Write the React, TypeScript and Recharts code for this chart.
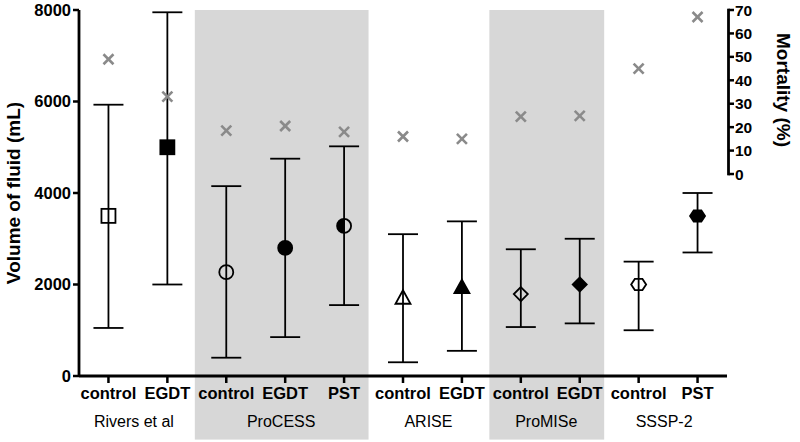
import { ComposedChart, Scatter, ErrorBar, XAxis, YAxis, ReferenceArea } from 'recharts';

const FONT = '"Liberation Sans", Arial, Helvetica, sans-serif';

// trial arms, left to right
const trials = ['Rivers et al', 'Rivers et al', 'ProCESS', 'ProCESS', 'ProCESS', 'ARISE', 'ARISE', 'ProMISe', 'ProMISe', 'SSSP-2', 'SSSP-2'];
const arms = ['control', 'EGDT', 'control', 'EGDT', 'PST', 'control', 'EGDT', 'control', 'EGDT', 'control', 'PST'];
const markers = ['square-open', 'square', 'circle-open', 'circle', 'circle-half', 'triangle-open', 'triangle', 'diamond-open', 'diamond', 'hexagon-open', 'hexagon'];

// fluid volume (mL): point, lower and upper whisker
const volMean = [3500, 5000, 2270, 2800, 3280, 1700, 1930, 1790, 2000, 2000, 3500];
const volLow = [1050, 2000, 400, 850, 1550, 300, 550, 1070, 1150, 1000, 2700];
const volHigh = [5930, 7950, 4150, 4750, 5020, 3100, 3380, 2770, 3000, 2500, 4000];

// mortality (%)
const mortality = [49, 33, 18.5, 20.5, 18, 16, 15, 24.5, 24.8, 45, 67];

const volTicks = [0, 2000, 4000, 6000, 8000];
const mortTicks = [0, 10, 20, 30, 40, 50, 60, 70];
const shadedTrials = ['ProCESS', 'ProMISe'];

const W = 800;
const H = 442;
const LEFT_W = 79;
const RIGHT_W = 73;
const TOP = 10;
const X_H = 66;
const PLOT_W = W - LEFT_W - RIGHT_W;
const PLOT_H = H - TOP - X_H;
const BAND = PLOT_W / arms.length;
const MORT_MIN = -86.2; // right axis only uses the top part of the plot
const SHADE_BOTTOM = -1390;

const ids = arms.map((a, i) => `${trials[i]} ${a} ${i}`);

const data = ids.map((id, i) => ({
  id,
  vol: volMean[i],
  err: [volMean[i] - volLow[i], volHigh[i] - volMean[i]],
  mort: mortality[i],
  marker: markers[i],
}));

const MarkerShape = (props: any) => {
  const { cx, cy, payload } = props;
  const m: string = payload.marker;
  const open = m.endsWith('-open');
  const fill = open ? 'none' : '#000';
  const sw = 1.8;
  if (m.startsWith('square')) {
    return <rect x={cx - 7} y={cy - 7} width={14} height={14} fill={fill} stroke="#000" strokeWidth={sw} />;
  }
  if (m === 'circle-half') {
    return (
      <g>
        <path d={`M${cx},${cy - 7} A7,7 0 0 0 ${cx},${cy + 7} Z`} fill="#000" />
        <circle cx={cx} cy={cy} r={7} fill="none" stroke="#000" strokeWidth={sw} />
      </g>
    );
  }
  if (m.startsWith('circle')) {
    return <circle cx={cx} cy={cy} r={7} fill={fill} stroke="#000" strokeWidth={sw} />;
  }
  if (m.startsWith('triangle')) {
    const pts = `${cx},${cy - 8} ${cx + 7.5},${cy + 5.5} ${cx - 7.5},${cy + 5.5}`;
    return <polygon points={pts} fill={fill} stroke="#000" strokeWidth={sw} strokeLinejoin="miter" />;
  }
  if (m.startsWith('diamond')) {
    const pts = `${cx},${cy - 7} ${cx + 7},${cy} ${cx},${cy + 7} ${cx - 7},${cy}`;
    return <polygon points={pts} fill={fill} stroke="#000" strokeWidth={sw} />;
  }
  const pts = `${cx - 7.5},${cy} ${cx - 3.8},${cy - 5.6} ${cx + 3.8},${cy - 5.6} ${cx + 7.5},${cy} ${cx + 3.8},${cy + 5.6} ${cx - 3.8},${cy + 5.6}`;
  return <polygon points={pts} fill={fill} stroke="#000" strokeWidth={sw} />;
};

const CrossShape = (props: any) => {
  const { cx, cy } = props;
  const s = 5;
  return (
    <g stroke="#8a8a8a" strokeWidth={2.6}>
      <line x1={cx - s} y1={cy - s} x2={cx + s} y2={cy + s} />
      <line x1={cx - s} y1={cy + s} x2={cx + s} y2={cy - s} />
    </g>
  );
};

// shaded block is a little narrower than the bands and nudged left, as in the original
const ShadeShape = (props: any) => {
  const { x, y, width, height } = props;
  return <rect x={x - 2} y={y} width={width - 3} height={height} fill="#d7d7d7" />;
};

const XTick = (props: any) => {
  const { x, index } = props;
  const first = index === 0 || trials[index] !== trials[index - 1];
  let groupLabel = null;
  if (first) {
    const n = trials.filter((t) => t === trials[index]).length;
    groupLabel = (
      <text x={x + ((n - 1) / 2) * BAND - 4} y={427} textAnchor="middle" fontFamily={FONT} fontSize={16} fill="#000">
        {trials[index]}
      </text>
    );
  }
  return (
    <g>
      <text x={x} y={399} textAnchor="middle" fontFamily={FONT} fontSize={16.5} fontWeight="bold" fill="#000">
        {arms[index]}
      </text>
      {groupLabel}
    </g>
  );
};

const MortTick = (props: any) => {
  const { x, y, payload } = props;
  const span = (70 / (70 - MORT_MIN)) * PLOT_H;
  return (
    <g>
      {payload.value === 0 && <line x1={x + 1.5} y1={y + 1.3} x2={x + 1.5} y2={y - span - 1.3} stroke="#000" strokeWidth={2.8} />}
      <line x1={x + 1.5} y1={y} x2={x + 7} y2={y} stroke="#000" strokeWidth={2.5} />
      <text x={x + 8} y={y} dy="0.36em" textAnchor="start" fontFamily={FONT} fontSize={15.5} fontWeight="bold" fill="#000">
        {payload.value}
      </text>
    </g>
  );
};

export default function App() {
  return (
    <div style={{ position: 'absolute', left: 0, top: 0, width: W, height: H, background: '#fff' }}>
      <ComposedChart width={W} height={H} data={data} margin={{ top: TOP, right: 0, bottom: 0, left: 0 }}>
        {shadedTrials.map((t) => {
          const idx = trials.map((tr, i) => (tr === t ? i : -1)).filter((i) => i >= 0);
          return (
            <ReferenceArea
              key={t}
              yAxisId="vol"
              x1={ids[idx[0]]}
              x2={ids[idx[idx.length - 1]]}
              y1={SHADE_BOTTOM}
              y2={8000}
              ifOverflow="visible"
              shape={ShadeShape}
            />
          );
        })}
        <XAxis
          dataKey="id"
          type="category"
          scale="band"
          height={X_H}
          interval={0}
          axisLine={{ stroke: '#000', strokeWidth: 2.8 }}
          tickLine={{ stroke: '#000', strokeWidth: 2.5 }}
          tickSize={7}
          tick={XTick}
        />
        <YAxis
          yAxisId="vol"
          width={LEFT_W}
          domain={[0, 8000]}
          ticks={volTicks}
          allowDataOverflow
          axisLine={{ stroke: '#000', strokeWidth: 2.8 }}
          tickLine={{ stroke: '#000', strokeWidth: 2.5 }}
          tickSize={6}
          tickMargin={2}
          tick={{ fontFamily: FONT, fontSize: 16.5, fontWeight: 'bold', fill: '#000' }}
          label={{
            content: () => (
              <text x={20} y={193} transform="rotate(-90 20 193)" textAnchor="middle" fontFamily={FONT} fontSize={19} fontWeight="bold" fill="#000">
                Volume of fluid (mL)
              </text>
            ),
          }}
        />
        <YAxis
          yAxisId="mort"
          orientation="right"
          width={RIGHT_W}
          domain={[MORT_MIN, 70]}
          ticks={mortTicks}
          allowDataOverflow
          axisLine={false}
          tickLine={false}
          tickSize={0}
          tickMargin={0}
          tick={MortTick}
          label={{
            content: () => (
              <text x={777} y={90} transform="rotate(90 777 90)" textAnchor="middle" fontFamily={FONT} fontSize={19} fontWeight="bold" fill="#000">
                Mortality (%)
              </text>
            ),
          }}
        />
        <Scatter yAxisId="vol" dataKey="vol" shape={MarkerShape} isAnimationActive={false}>
          <ErrorBar dataKey="err" direction="y" width={15} stroke="#000" strokeWidth={1.8} />
        </Scatter>
        <Scatter yAxisId="mort" dataKey="mort" shape={CrossShape} isAnimationActive={false} />
      </ComposedChart>
    </div>
  );
}
